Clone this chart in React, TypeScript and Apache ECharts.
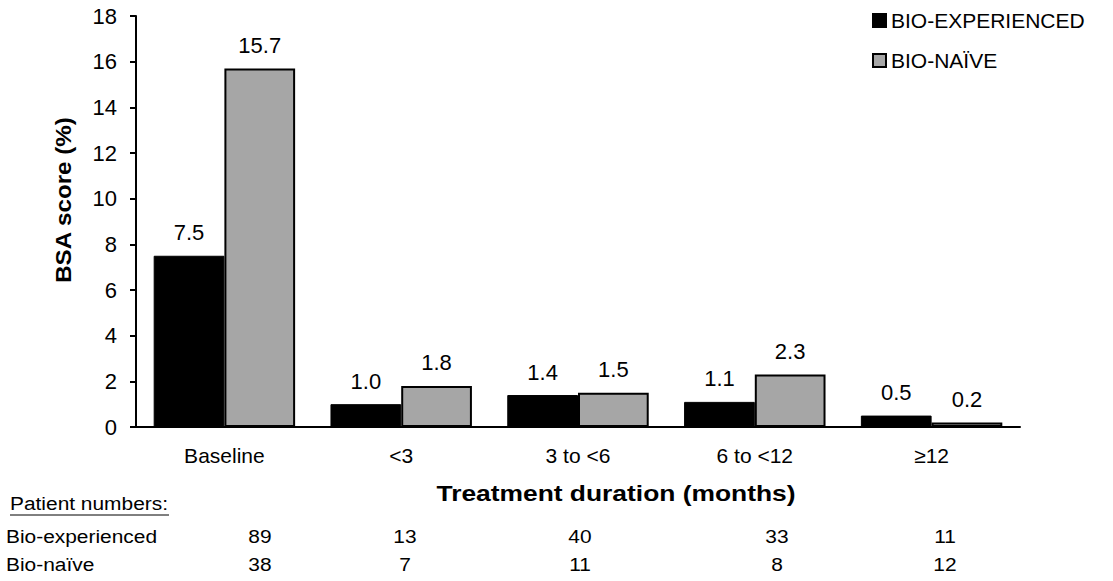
import React, { useEffect, useRef } from "react";
import * as echarts from "echarts";

const categories = ["Baseline", "<3", "3 to <6", "6 to <12", "≥12"];
const bioExperienced = [7.5, 1.0, 1.4, 1.1, 0.5];
const bioNaive = [15.7, 1.8, 1.5, 2.3, 0.2];
const yTicks = { min: 0, max: 18, interval: 2 };
const patientsExperienced = ["89", "13", "40", "33", "11"];
const patientsNaive = ["38", "7", "11", "8", "12"];
const patientX = [260, 405, 580, 777, 945];

const FONT = "Liberation Sans, Arial, sans-serif";
const SX = 1.1;

export default function App() {
  const ref = useRef<HTMLDivElement>(null);
  useEffect(() => {
    const chart = echarts.init(ref.current!, null, { renderer: "svg" });
    const labelCfg = {
      show: true,
      position: "top" as const,
      distance: 12,
      fontSize: 22,
      color: "#000",
      fontFamily: FONT,
      formatter: (p: any) => Number(p.value).toFixed(1),
    };
    const txt = (text: string, x: number, y: number, font: string, align: string = "left", sx: number = SX) => ({
      type: "text",
      x,
      y,
      scaleX: sx,
      style: { text, font, fill: "#000", align, verticalAlign: "middle" },
    });
    const graphics: any[] = [
      txt("Patient numbers:", 10, 503, `19px ${FONT}`),
      { type: "line", shape: { x1: 10, y1: 515, x2: 169, y2: 515 }, style: { stroke: "#000", lineWidth: 1 } },
      txt("Bio-experienced", 6, 536, `19px ${FONT}`),
      txt("Bio-naïve", 6, 564, `19px ${FONT}`),
      txt("Treatment duration (months)", 616, 493, `bold 22px ${FONT}`, "center", 1.2),
      {
        type: "text",
        x: 63,
        y: 200,
        rotation: Math.PI / 2,
        scaleX: 1.1,
        style: {
          text: "BSA score (%)",
          font: `bold 22px ${FONT}`,
          fill: "#000",
          align: "center",
          verticalAlign: "middle",
        },
      },
    ];
    patientX.forEach((x, i) => {
      graphics.push(txt(patientsExperienced[i], x, 536, `19px ${FONT}`, "center"));
      graphics.push(txt(patientsNaive[i], x, 564, `19px ${FONT}`, "center"));
    });
    chart.setOption({
      animation: false,
      backgroundColor: "#fff",
      textStyle: { fontFamily: FONT },
      grid: { left: 136, right: 93, top: 16, bottom: 154, containLabel: false },
      legend: {
        orient: "vertical",
        left: 867,
        top: 5,
        icon: "rect",
        itemWidth: 13,
        itemHeight: 13,
        itemGap: 19,
        textStyle: { fontSize: 21, color: "#000", fontFamily: FONT },
        data: ["BIO-EXPERIENCED", "BIO-NAÏVE"],
      },
      xAxis: {
        type: "category",
        data: categories,
        axisLine: { lineStyle: { color: "#000", width: 2 } },
        axisTick: { show: false },
        axisLabel: { fontSize: 21, color: "#000", margin: 18, fontFamily: FONT },
      },
      yAxis: {
        type: "value",
        min: yTicks.min,
        max: yTicks.max,
        interval: yTicks.interval,
        axisLine: { show: true, lineStyle: { color: "#000", width: 2 } },
        axisTick: { show: true, length: 6, lineStyle: { color: "#000", width: 2 } },
        axisLabel: { fontSize: 22, color: "#000", margin: 19, fontFamily: FONT },
        splitLine: { show: false },
      },
      series: [
        {
          name: "BIO-EXPERIENCED",
          type: "bar",
          data: bioExperienced,
          barGap: "0%",
          barCategoryGap: "20%",
          itemStyle: { color: "#000", borderColor: "#000", borderWidth: 1 },
          label: labelCfg,
        },
        {
          name: "BIO-NAÏVE",
          type: "bar",
          data: bioNaive,
          barGap: "0%",
          barCategoryGap: "20%",
          itemStyle: { color: "#a6a6a6", borderColor: "#000", borderWidth: 2 },
          label: labelCfg,
        },
      ],
      graphic: graphics,
    });
    return () => chart.dispose();
  }, []);
  return <div ref={ref} style={{ position: "fixed", left: 0, top: 0, width: 1113, height: 581 }} />;
}
